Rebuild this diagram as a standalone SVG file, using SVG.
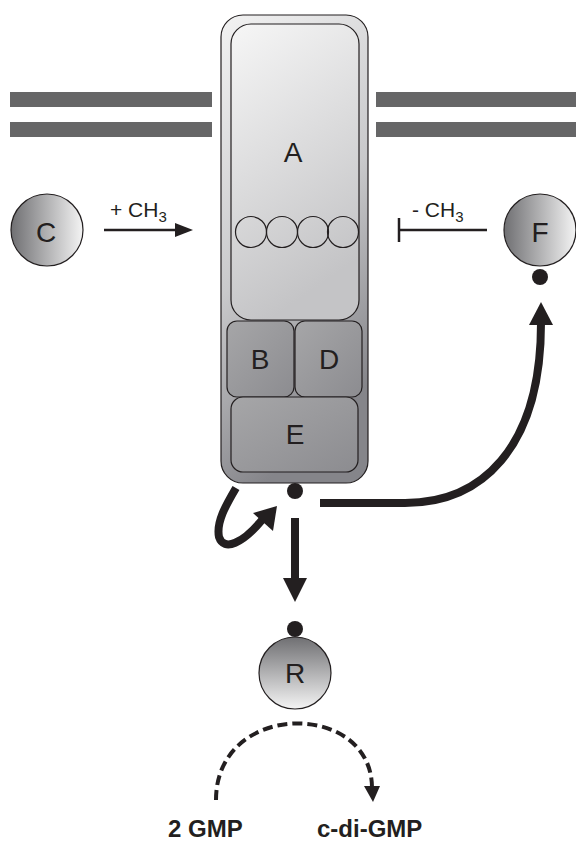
<svg xmlns="http://www.w3.org/2000/svg" width="576" height="841" viewBox="0 0 576 841">
<defs>
<linearGradient id="gh" x1="0" y1="0" x2="1" y2="0">
<stop offset="0" stop-color="#6f6f72"/><stop offset="1" stop-color="#f4f4f4"/>
</linearGradient>
<linearGradient id="gv" x1="0" y1="0" x2="0" y2="1">
<stop offset="0" stop-color="#6f6f72"/><stop offset="1" stop-color="#f4f4f4"/>
</linearGradient>
<linearGradient id="gbody" x1="0" y1="0" x2="0.3" y2="1">
<stop offset="0" stop-color="#f2f2f2"/><stop offset="0.55" stop-color="#c9c9cb"/><stop offset="1" stop-color="#85858a"/>
</linearGradient>
<linearGradient id="gA" x1="0" y1="0" x2="0.3" y2="1">
<stop offset="0" stop-color="#f6f6f6"/><stop offset="1" stop-color="#c4c4c6"/>
</linearGradient>
<linearGradient id="gsub" x1="0" y1="0" x2="1" y2="1">
<stop offset="0" stop-color="#a6a6a8"/><stop offset="1" stop-color="#8c8c90"/>
</linearGradient>
</defs>
<style>
.lbl{font-family:"Liberation Sans",Arial,sans-serif;fill:#231f20;text-anchor:middle}
.big{font-size:28px}
.chem{font-size:21px;text-anchor:start}
.bold{font-family:"Liberation Sans",Arial,sans-serif;font-weight:bold;font-size:24px;fill:#231f20}
.ol{stroke:#231f20;stroke-width:1.2}
.thick{fill:none;stroke:#231f20;stroke-width:8}
.dot{fill:#231f20}
</style>
<g id="membrane" fill="#666667">
<rect x="10" y="92" width="202" height="15"/>
<rect x="10" y="122" width="202" height="15"/>
<rect x="376" y="92" width="200" height="15"/>
<rect x="376" y="122" width="200" height="15"/>
</g>
<g id="receptor">
<rect x="221" y="15" width="147" height="468" rx="22" fill="url(#gbody)" class="ol"/>
</g>
<g id="A">
<rect x="231" y="24" width="128" height="296" rx="20" fill="url(#gA)" class="ol"/>
<text class="lbl big" x="293" y="162">A</text>
<g fill="none" class="ol">
<circle cx="251" cy="232" r="15.5"/>
<circle cx="282" cy="232" r="15.5"/>
<circle cx="313" cy="232" r="15.5"/>
<circle cx="343" cy="232" r="15.5"/>
</g>
</g>
<g id="B">
<rect x="227" y="321" width="67" height="76" rx="10" fill="url(#gsub)" class="ol"/>
<text class="lbl big" x="260" y="369">B</text>
</g>
<g id="D">
<rect x="295" y="321" width="67" height="76" rx="10" fill="url(#gsub)" class="ol"/>
<text class="lbl big" x="329" y="369">D</text>
</g>
<g id="E">
<rect x="231" y="397" width="127" height="75" rx="12" fill="url(#gsub)" class="ol"/>
<text class="lbl big" x="295" y="444">E</text>
</g>
<g id="C">
<circle cx="47" cy="230" r="36" fill="url(#gh)" class="ol"/>
<text class="lbl big" x="46" y="242">C</text>
</g>
<g id="F">
<circle cx="540" cy="230" r="36" fill="url(#gh)" class="ol"/>
<text class="lbl big" x="540" y="242">F</text>
<circle class="dot" cx="540" cy="277" r="8"/>
</g>
<g id="R">
<circle cx="295" cy="673" r="36" fill="url(#gv)" class="ol"/>
<text class="lbl big" x="295" y="683">R</text>
<circle class="dot" cx="295" cy="629" r="8"/>
</g>
<g id="connectors">
<circle class="dot" cx="295" cy="491" r="8"/>
<line x1="104" y1="230" x2="176" y2="230" stroke="#231f20" stroke-width="2.5"/>
<path d="M175,223 L193,230 L175,237 Z" fill="#231f20"/>
<text class="lbl chem" x="110" y="217">+ CH<tspan font-size="15" dy="5">3</tspan></text>
<line x1="398" y1="230" x2="487" y2="230" stroke="#231f20" stroke-width="2.5"/>
<line x1="399" y1="218" x2="399" y2="242" stroke="#231f20" stroke-width="2.5"/>
<text class="lbl chem" x="412" y="217">- CH<tspan font-size="15" dy="5">3</tspan></text>
<path class="thick" d="M295,518 L295,580"/>
<path d="M283,578 L307,578 L295,602 Z" fill="#231f20"/>
<path class="thick" d="M320,503 L405,503 C480,503 541,450 541,323"/>
<path d="M529,325 L553,325 L541,302 Z" fill="#231f20"/>
<path class="thick" d="M236,488 C226,505 216,522 219,537 C224,552 243,543 262,520"/>
<path d="M253,513 L277,506 L273,531 Z" fill="#231f20"/>
<path d="M216,800 C216,700 372,700 372,788" fill="none" stroke="#231f20" stroke-width="4" stroke-dasharray="10,5"/>
<path d="M364,786 L380,786 L373,802 Z" fill="#231f20"/>
</g>
<text class="bold" x="168" y="837">2 GMP</text>
<text class="bold" x="317" y="837">c-di-GMP</text>
</svg>
